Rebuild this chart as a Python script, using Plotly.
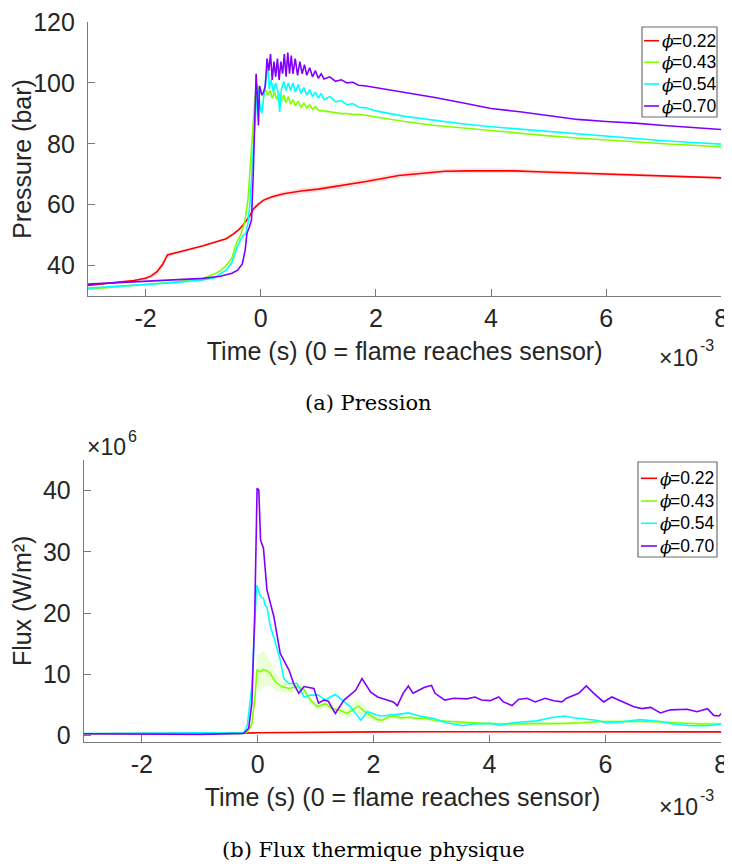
import plotly.graph_objects as go

# ---------------- data (time in ms, pressure in bar, flux in 1e6 W/m^2) ----------------
series_names = ["0.22", "0.43", "0.54", "0.70"]
series_colors = ["#ff0000", "#80ff00", "#00ffff", "#8000ff"]

# Pressure
t_p_022 = [-3.0, -2.6, -2.2, -2.0, -1.9, -1.8, -1.7, -1.62, -1.55, -1.45, -1.2, -1.0, -0.8, -0.6, -0.48,
           -0.38, -0.3, -0.2, -0.13, -0.05, 0.05, 0.2, 0.4, 0.7, 1.0, 1.4, 1.83, 2.4, 2.8, 3.2, 3.6, 4.0,
           4.4, 4.8, 5.3, 5.9, 6.4, 6.8, 7.4, 8.0]
p_022 = [33.5, 34.3, 35.1, 35.8, 36.6, 38.0, 40.5, 43.5, 43.8, 44.3, 45.5, 46.5, 47.6, 48.8, 50.3,
         51.8, 53.5, 56.0, 58.5, 60.0, 61.5, 62.6, 63.6, 64.5, 65.1, 66.2, 67.6, 69.6, 70.4, 71.0, 71.1, 71.2,
         71.1, 70.8, 70.5, 70.0, 69.8, 69.4, 69.2, 68.8]
p_022_std = [0.3, 0.3, 0.4, 0.5, 0.7, 1.0, 1.2, 1.0, 0.6, 0.5, 0.4, 0.4, 0.4, 0.4, 0.4,
             0.4, 0.5, 0.5, 0.6, 0.6, 0.6, 0.7, 0.8, 0.9, 0.9, 0.9, 0.9, 0.9, 0.9, 0.8, 0.8, 0.8,
             0.7, 0.7, 0.6, 0.6, 0.5, 0.5, 0.4, 0.4]

t_p_043 = [-3.0, -2.5, -2.0, -1.5, -1.0, -0.9, -0.8, -0.7, -0.6, -0.5, -0.42, -0.35, -0.28, -0.22, -0.18,
           -0.14, -0.1, -0.06, -0.03, 0.0, 0.04, 0.08, 0.12, 0.16, 0.2, 0.24, 0.28, 0.32, 0.36, 0.4, 0.44,
           0.48, 0.52, 0.56, 0.6, 0.65, 0.7, 0.75, 0.8, 0.85, 0.9, 0.95, 1.0, 1.1, 1.2, 1.3, 1.4, 1.5, 1.6,
           1.7, 1.83, 2.0, 2.5, 3.0, 3.5, 4.0, 4.5, 5.0, 5.5, 6.0, 6.5, 7.0, 7.5, 8.0]
p_043 = [32.2, 33.0, 33.8, 34.6, 35.8, 36.6, 37.2, 38.3, 40.0, 42.5, 47.5, 50.0, 54.0, 62.0, 72.0,
         85.0, 95.0, 99.5, 97.0, 97.5, 95.5, 98.0, 96.0, 97.5, 95.0, 97.0, 94.5, 96.5, 94.0, 96.0, 93.5,
         95.5, 93.0, 94.5, 92.5, 94.0, 92.0, 93.3, 91.8, 92.8, 91.3, 92.2, 91.0, 90.8, 90.5, 90.2, 89.9, 89.9, 89.6,
         89.7, 89.3, 88.8, 87.3, 86.1, 85.2, 84.3, 83.4, 82.6, 81.9, 81.2, 80.5, 80.0, 79.5, 79.0]

t_p_054 = [-3.0, -2.5, -2.0, -1.5, -1.0, -0.8, -0.6, -0.5, -0.42, -0.35, -0.3, -0.26, -0.22, -0.18, -0.14,
           -0.1, -0.07, -0.04, -0.01, 0.02, 0.05, 0.08, 0.12, 0.15, 0.18, 0.22, 0.26, 0.3, 0.33, 0.36, 0.4,
           0.44, 0.48, 0.52, 0.56, 0.6, 0.65, 0.7, 0.75, 0.8, 0.85, 0.9, 0.95, 1.0, 1.05, 1.1, 1.2, 1.3, 1.4,
           1.5, 1.6, 1.7, 1.83, 2.0, 2.5, 3.0, 3.5, 4.0, 4.5, 5.0, 5.5, 6.0, 6.5, 7.0, 7.5, 8.0]
p_054 = [32.6, 33.2, 33.8, 34.4, 35.3, 36.0, 38.5, 41.0, 45.5, 48.5, 50.0, 50.5, 54.0, 62.0, 75.0,
         88.0, 95.0, 98.0, 92.0, 90.0, 96.0, 100.0, 106.0, 98.0, 101.0, 97.0, 100.0, 97.0, 90.5, 98.0, 100.5,
         97.5, 100.0, 97.5, 100.0, 97.0, 99.5, 96.5, 98.5, 96.0, 97.8, 95.5, 97.0, 95.0, 96.5, 94.5, 95.5, 93.8, 94.2,
         92.8, 93.2, 92.0, 91.8, 90.8, 89.0, 87.7, 86.6, 85.6, 84.8, 84.0, 83.2, 82.4, 81.7, 81.0, 80.4, 79.9]

t_p_070 = [-3.0, -2.5, -2.0, -1.5, -1.0, -0.7, -0.5, -0.4, -0.32, -0.27, -0.24, -0.2, -0.16, -0.13, -0.1,
           -0.08, -0.06, -0.04, -0.02, 0.0, 0.02, 0.05, 0.08, 0.11, 0.14, 0.17, 0.2, 0.23, 0.26, 0.29, 0.32,
           0.35, 0.38, 0.41, 0.44, 0.47, 0.5, 0.53, 0.56, 0.6, 0.64, 0.68, 0.72, 0.76, 0.8, 0.85, 0.9, 0.95,
           1.0, 1.05, 1.1, 1.2, 1.3, 1.4, 1.5, 1.6, 1.7, 1.83, 2.0, 2.3, 2.6, 3.0, 3.5, 4.0, 4.5, 5.0, 5.5,
           6.0, 6.5, 7.0, 7.5, 8.0]
p_070 = [33.9, 34.4, 34.9, 35.3, 35.8, 36.5, 37.5, 38.5, 40.5, 45.0, 50.5, 52.5, 55.0, 70.0, 90.0,
         103.0, 96.0, 86.0, 99.0, 97.0, 96.0, 97.0, 99.0, 108.0, 104.0, 109.5, 101.0, 107.0, 102.0, 108.0, 101.0,
         107.0, 103.0, 109.5, 102.0, 110.0, 103.0, 109.0, 103.0, 108.0, 102.5, 107.0, 103.0, 106.0, 102.5, 105.0, 102.0, 104.0,
         101.5, 103.0, 101.3, 102.0, 100.5, 101.0, 100.0, 100.2, 99.2, 99.0, 98.5, 97.6, 96.6, 95.3, 93.5, 91.6, 90.5, 89.3, 88.0,
         87.3, 86.8, 86.0, 85.3, 84.7]

# Flux
t_f_022 = [-3.0, -2.0, -1.0, -0.3, 0.0, 0.5, 1.0, 2.0, 3.0, 4.0, 5.0, 6.0, 7.0, 8.0]
f_022 = [0.3, 0.3, 0.35, 0.4, 0.45, 0.5, 0.55, 0.6, 0.62, 0.62, 0.6, 0.6, 0.6, 0.6]

t_f_043 = [-3.0, -2.0, -1.0, -0.3, -0.2, -0.16, -0.1, -0.05, -0.01, 0.05, 0.1, 0.16, 0.22, 0.31, 0.42,
           0.54, 0.68, 0.8, 0.91, 1.03, 1.1, 1.17, 1.28, 1.43, 1.54, 1.63, 1.74, 1.89, 2.07, 2.15, 2.24,
           2.34, 2.47, 2.63, 2.76, 2.91, 3.04, 3.32, 3.6, 3.89, 4.2, 4.47, 4.9, 5.33, 5.6, 5.92, 6.3, 6.78,
           7.2, 7.64, 8.0]
f_043 = [0.3, 0.35, 0.3, 0.3, 0.5, 0.8, 1.9, 6.0, 10.7, 10.4, 10.8, 10.6, 10.1, 8.7, 8.0,
         7.7, 8.0, 7.5, 5.8, 4.7, 4.9, 5.2, 4.4, 4.1, 3.6, 4.1, 4.8, 3.6, 2.6, 2.5, 3.0,
         3.2, 2.9, 3.0, 2.8, 2.8, 2.5, 2.3, 2.1, 2.0, 1.9, 1.9, 1.9, 2.0, 2.1, 2.3, 2.3, 2.3,
         2.1, 1.9, 1.9]
f_043_std = [0.05, 0.05, 0.05, 0.05, 0.1, 0.2, 0.5, 1.5, 2.5, 3.0, 3.0, 2.5, 2.0, 1.5, 1.0,
             0.8, 0.6, 0.6, 0.6, 0.6, 0.6, 0.6, 0.6, 0.7, 0.8, 1.0, 1.2, 0.8, 0.5, 0.4, 0.4,
             0.4, 0.3, 0.3, 0.3, 0.3, 0.3, 0.3, 0.3, 0.3, 0.3, 0.3, 0.3, 0.3, 0.3, 0.3, 0.3, 0.3,
             0.3, 0.3, 0.3]

t_f_054 = [-3.0, -2.0, -1.0, -0.3, -0.24, -0.18, -0.1, -0.05, -0.02, 0.02, 0.05, 0.1, 0.13, 0.16, 0.22,
           0.31, 0.39, 0.45, 0.54, 0.68, 0.8, 0.91, 1.05, 1.17, 1.25, 1.34, 1.43, 1.6, 1.78, 1.89, 2.05,
           2.13, 2.45, 2.6, 2.8, 3.03, 3.26, 3.55, 3.72, 4.01, 4.18, 4.41, 4.81, 5.1, 5.3, 5.45, 5.84,
           6.02, 6.25, 6.6, 6.95, 7.18, 7.47, 7.76, 8.0]
f_054 = [0.35, 0.4, 0.35, 0.4, 0.5, 1.6, 8.0, 18.0, 24.6, 23.5, 22.7, 22.4, 21.2, 21.0, 17.8,
         15.1, 12.3, 9.3, 8.5, 8.5, 6.3, 6.6, 6.6, 5.8, 6.3, 6.7, 6.0, 4.7, 2.5, 3.9, 3.4,
         3.2, 3.5, 3.7, 3.2, 2.8, 2.1, 1.6, 1.9, 2.0, 1.7, 2.1, 2.4, 3.0, 3.2, 2.9, 2.5,
         2.1, 2.2, 2.6, 2.3, 1.9, 1.6, 1.6, 1.9]

t_f_070 = [-3.0, -2.0, -1.0, -0.24, -0.155, -0.1, -0.05, -0.01, 0.02, 0.05, 0.1, 0.16, 0.28, 0.39, 0.54,
           0.62, 0.71, 0.8, 0.97, 1.05, 1.14, 1.22, 1.34, 1.49, 1.69, 1.8, 1.95, 2.07, 2.24, 2.34, 2.41,
           2.51, 2.6, 2.68, 2.74, 2.88, 3.0, 3.06, 3.23, 3.38, 3.61, 3.75, 3.86, 4.01, 4.16, 4.24, 4.39,
           4.5, 4.65, 4.79, 4.96, 5.11, 5.25, 5.33, 5.54, 5.67, 5.8, 5.97, 6.11, 6.31, 6.49, 6.63, 6.78,
           6.95, 7.12, 7.41, 7.58, 7.76, 7.87, 7.96, 8.0]
f_070 = [0.3, 0.3, 0.2, 0.36, 1.2, 5.3, 20.0, 40.4, 40.1, 31.9, 30.6, 23.8, 19.4, 13.4, 10.7,
         8.5, 6.9, 8.0, 7.7, 5.3, 5.8, 5.6, 3.6, 5.8, 7.4, 9.3, 7.1, 6.3, 5.8, 5.5, 4.9,
         6.9, 8.1, 6.9, 7.2, 7.9, 8.2, 6.9, 5.8, 6.1, 6.0, 6.3, 5.8, 5.7, 6.3, 5.5, 4.9,
         5.9, 6.1, 5.5, 6.1, 5.7, 5.5, 6.1, 6.9, 8.1, 6.9, 5.5, 6.3, 5.5, 4.7, 4.4, 4.6,
         3.7, 4.2, 4.3, 3.9, 4.4, 3.3, 3.2, 3.6]

x_ticks = [-2, 0, 2, 4, 6, 8]
x_ticktext = ["-2", "0", "2", "4", "6", "8"]
p_ticks = [40, 60, 80, 100, 120]
f_ticks = [0, 10, 20, 30, 40]

pressure_series = [(t_p_022, p_022), (t_p_043, p_043), (t_p_054, p_054), (t_p_070, p_070)]
flux_series = [(t_f_022, f_022), (t_f_043, f_043), (t_f_054, f_054), (t_f_070, f_070)]

# ---------------- figure ----------------
# The page body keeps its default 8px margin, so the figure is 8px smaller and
# positions (measured on the 732x864 screenshot) are shifted by that amount.
OFF = 8
FW, FH = 732 - OFF, 864 - OFF


def fx(px):
    return (px - OFF) / FW


def fy(py):
    return 1 - (py - OFF) / FH


SANS = "Liberation Sans, Arial, sans-serif"
SERIF = "DejaVu Serif, serif"
TXT = "#262626"
AX = "#7a7a7a"

fig = go.Figure()


def band(t, v, s, color, xa, ya):
    up = [a + b for a, b in zip(v, s)]
    lo = [a - b for a, b in zip(v, s)]
    fig.add_trace(go.Scatter(x=t, y=up, mode="lines", line=dict(width=0), hoverinfo="skip",
                             showlegend=False, xaxis=xa, yaxis=ya))
    fig.add_trace(go.Scatter(x=t, y=lo, mode="lines", line=dict(width=0), fill="tonexty",
                             fillcolor=color, hoverinfo="skip", showlegend=False, xaxis=xa, yaxis=ya))


band(t_p_022, p_022, p_022_std, "rgba(255,0,0,0.12)", "x", "y")
band(t_f_043, f_043, f_043_std, "rgba(128,255,0,0.16)", "x2", "y2")

for (t, v), name, col in zip(pressure_series, series_names, series_colors):
    fig.add_trace(go.Scatter(x=t, y=v, mode="lines", name="ϕ=" + name,
                             line=dict(color=col, width=1.6), showlegend=False, xaxis="x", yaxis="y"))
for (t, v), name, col in zip(flux_series, series_names, series_colors):
    fig.add_trace(go.Scatter(x=t, y=v, mode="lines", name="ϕ=" + name,
                             line=dict(color=col, width=1.6), showlegend=False, xaxis="x2", yaxis="y2"))

axis_common = dict(showline=True, linecolor=AX, linewidth=1.2, ticks="inside", ticklen=7,
                   tickcolor=AX, tickwidth=1, showgrid=False, zeroline=False, mirror=False,
                   automargin=False, ticklabeloverflow="allow",
                   tickfont=dict(family=SANS, size=25, color=TXT))
title_font = dict(family=SANS, size=25, color=TXT)

fig.update_layout(
    template="none",
    width=FW, height=FH, margin=dict(l=0, r=0, t=0, b=0, pad=0),
    paper_bgcolor="white", plot_bgcolor="white", showlegend=False,
    xaxis=dict(domain=[fx(88), fx(721.3)], range=[-3, 8], tickvals=x_ticks, ticktext=x_ticktext, anchor="y",
               title=dict(text="Time (s) (0 = flame reaches sensor)", font=title_font, standoff=11),
               ticklabelstandoff=0, **axis_common),
    yaxis=dict(domain=[fy(296), fy(22)], range=[30, 120], tickvals=p_ticks, anchor="x",
               title=dict(text="Pressure (bar)", font=title_font, standoff=6),
               ticklabelstandoff=7, **axis_common),
    xaxis2=dict(domain=[fx(83.8), fx(721.3)], range=[-3, 8], tickvals=x_ticks, ticktext=x_ticktext, anchor="y2",
                title=dict(text="Time (s) (0 = flame reaches sensor)", font=title_font, standoff=11),
                ticklabelstandoff=0, **axis_common),
    yaxis2=dict(domain=[fy(741.7), fy(460)], range=[-1, 45], tickvals=f_ticks, anchor="x2",
                title=dict(text="Flux (W/m²)", font=title_font, standoff=6),
                ticklabelstandoff=7, **axis_common),
)

annotations = []
shapes = []


def note(x, y, text, size, family=SANS, color=TXT, xanchor="left", yanchor="middle", style="normal"):
    annotations.append(dict(x=fx(x), y=fy(y), xref="paper", yref="paper", xanchor=xanchor, yanchor=yanchor,
                            text=text, showarrow=False,
                            font=dict(family=family, size=size, color=color, style=style)))


# axis exponent labels (base and exponent as separate texts)
note(657, 358, "×10", 23)
note(698, 346, "-3", 16)
note(657, 807, "×10", 23)
note(698, 795, "-3", 16)
note(85, 447, "×10", 23)
note(126, 436, "6", 16)

# captions
note(368, 403, "(a) Pression", 21, family=SERIF, color="#000", xanchor="center")
note(373, 850, "(b) Flux thermique physique", 21, family=SERIF, color="#000", xanchor="center")

# legends (one per panel)
legend_specs = [
    dict(box=(642, 27, 717, 117), rows=[40.7, 62.3, 84.0, 106.0], line=(644, 659), phi_x=659.5, text_x=670),
    dict(box=(638, 462, 717, 557), rows=[478.3, 501.0, 523.3, 546.0], line=(641, 657), phi_x=657.5, text_x=668),
]
for spec in legend_specs:
    x0, y0, x1, y1 = spec["box"]
    shapes.append(dict(type="rect", xref="paper", yref="paper", x0=fx(x0), x1=fx(x1), y0=fy(y1), y1=fy(y0),
                       line=dict(color="#6e6e6e", width=1.2), fillcolor="white", layer="above"))
    for ry, name, col in zip(spec["rows"], series_names, series_colors):
        shapes.append(dict(type="line", xref="paper", yref="paper", x0=fx(spec["line"][0]), x1=fx(spec["line"][1]),
                           y0=fy(ry), y1=fy(ry), line=dict(color=col, width=1.6), layer="above"))
        note(spec["phi_x"], ry + 0.5, "ϕ", 17, family=SERIF, color="#000", style="italic")
        note(spec["text_x"], ry, "=" + name, 17.5, color="#000")

fig.update_layout(annotations=annotations, shapes=shapes)

fig.write_html("out.html")
